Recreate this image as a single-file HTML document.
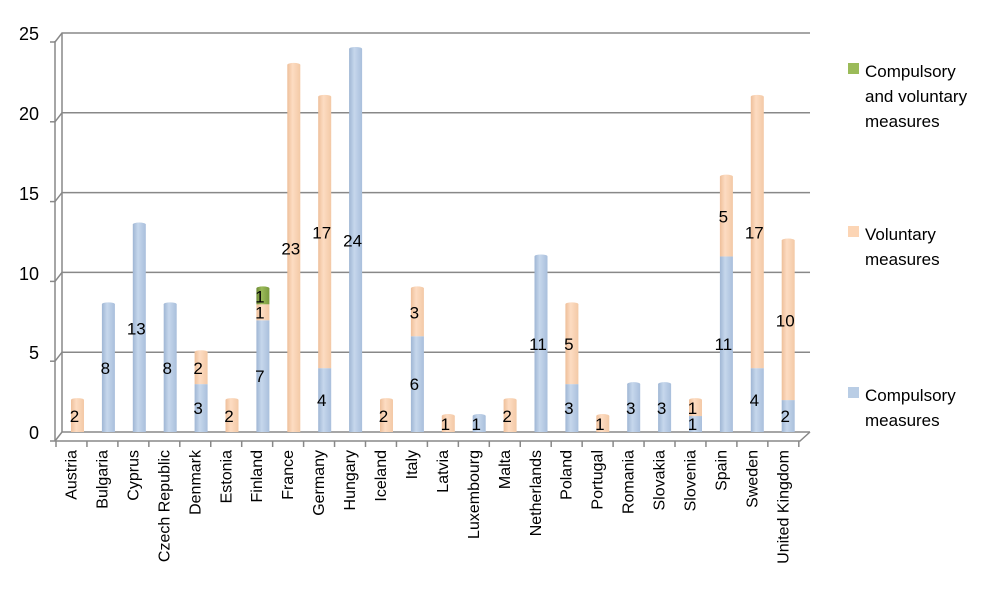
<!DOCTYPE html>
<html><head><meta charset="utf-8"><style>
html,body{margin:0;padding:0;background:#fff}
svg{display:block;font-family:"Liberation Sans",sans-serif}
</style></head><body>
<svg id="s" width="997" height="612" viewBox="0 0 997 612" xmlns="http://www.w3.org/2000/svg">
<defs>
<linearGradient id="gb" x1="0" x2="1" y1="0" y2="0"><stop offset="0" stop-color="#9fb6d4"/><stop offset="0.4" stop-color="#c6d7ec"/><stop offset="1" stop-color="#a9bfdc"/></linearGradient>
<linearGradient id="go" x1="0" x2="1" y1="0" y2="0"><stop offset="0" stop-color="#eebf9a"/><stop offset="0.4" stop-color="#fddcc2"/><stop offset="1" stop-color="#f3c9a6"/></linearGradient>
<linearGradient id="gg" x1="0" x2="1" y1="0" y2="0"><stop offset="0" stop-color="#6d8a35"/><stop offset="0.4" stop-color="#9bbb59"/><stop offset="1" stop-color="#7a9a3e"/></linearGradient>
</defs>
<g id="grid" stroke="#888" stroke-width="1.5" fill="none"></g>
<g id="bars"></g>
<g id="labels" font-size="17" fill="#000" text-anchor="middle"></g>
<g id="xl" font-size="16" fill="#000" text-anchor="end"></g>
<g font-size="18" fill="#000" text-anchor="end">
<text x="39" y="40">25</text><text x="39" y="120">20</text><text x="39" y="200">15</text><text x="39" y="280">10</text><text x="39" y="359">5</text><text x="39" y="439">0</text>
</g>
<g font-size="17" fill="#000">
<rect x="848" y="63" width="11" height="11" fill="#9bbb59"/>
<text x="865" y="77">Compulsory</text><text x="865" y="102">and voluntary</text><text x="865" y="127">measures</text>
<rect x="848" y="226" width="11" height="11" fill="#fcd5b5"/>
<text x="865" y="240">Voluntary</text><text x="865" y="265">measures</text>
<rect x="848" y="387" width="11" height="11" fill="#b9cde5"/>
<text x="865" y="401">Compulsory</text><text x="865" y="426">measures</text>
</g>
</svg>
<script>
const NS="http://www.w3.org/2000/svg";
function el(p,t,a,txt){const e=document.createElementNS(NS,t);for(const k in a)e.setAttribute(k,a[k]);if(txt!==undefined)e.textContent=txt;document.getElementById(p).appendChild(e);return e;}
const U=15.96,Y0=432;
for(let v=0;v<=25;v+=5){const y=Y0-v*U;
 el("grid","path",{d:`M55 ${y+9} L62 ${y} L810 ${y}`});
 el("grid","line",{x1:50,y1:y+9,x2:55,y2:y+9});}
el("grid","line",{x1:55,y1:41,x2:55,y2:441});
el("grid","line",{x1:62,y1:33,x2:62,y2:432});
el("grid","path",{d:"M55 441 L800 441 L810 432"});
const d=[["Austria",0,2,0],["Bulgaria",8,0,0],["Cyprus",13,0,0],["Czech Republic",8,0,0],["Denmark",3,2,0],["Estonia",0,2,0],["Finland",7,1,1],["France",0,23,0],["Germany",4,17,0],["Hungary",24,0,0],["Iceland",0,2,0],["Italy",6,3,0],["Latvia",0,1,0],["Luxembourg",1,0,0],["Malta",0,2,0],["Netherlands",11,0,0],["Poland",3,5,0],["Portugal",0,1,0],["Romania",3,0,0],["Slovakia",3,0,0],["Slovenia",1,1,0],["Spain",11,5,0],["Sweden",4,17,0],["United Kingdom",2,10,0]];
d.forEach((r,i)=>{
 const x=71+30.9*i,w=13,cx=x+w/2;
 el("grid","line",{x1:56+30.95*i,y1:441,x2:56+30.95*i,y2:447});
 let base=0;const fills=["url(#gb)","url(#go)","url(#gg)"];let topFill;
 for(let s=0;s<3;s++){const v=r[s+1];if(!v)continue;
  const y1=Y0-(base+v)*U,h=v*U;
  el("bars","rect",{x:x,y:y1,width:w,height:h,fill:fills[s]});
  el("labels","text",{x:cx-3,y:Y0-(base+v/2)*U+6},String(v));
  base+=v;topFill=fills[s];}
 el("bars","ellipse",{cx:cx,cy:Y0-base*U,rx:w/2,ry:2,fill:topFill});
 el("xl","text",{x:0,y:0,transform:`translate(${71.5+30.95*i+5},450) rotate(-90)`},r[0]);
});
el("grid","line",{x1:56+30.95*24,y1:441,x2:56+30.95*24,y2:447});
</script>
</body></html>
